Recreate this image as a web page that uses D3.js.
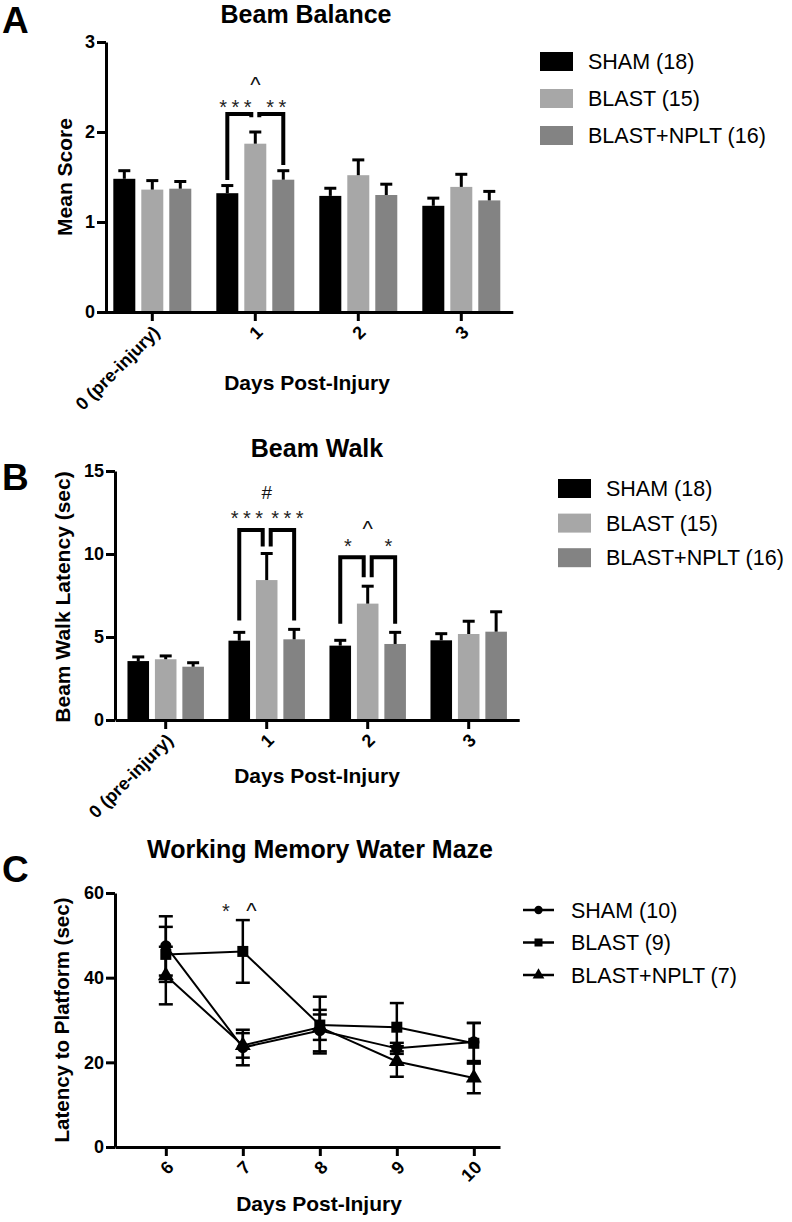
<!DOCTYPE html>
<html><head><meta charset="utf-8">
<script src="https://cdn.jsdelivr.net/npm/d3@7"></script>
<style>body{margin:0;background:#fff}</style>
</head><body><svg id="c" width="792" height="1222"></svg>
<script>
// ---------- DATA ----------
const barSeries = ["SHAM (18)", "BLAST (15)", "BLAST+NPLT (16)"];
const barColors = ["#000000", "#a7a7a7", "#838383"];
const barDays = ["0 (pre-injury)", "1", "2", "3"];

const balanceMean = [[1.48, 1.32, 1.29, 1.18], [1.36, 1.87, 1.52, 1.39], [1.37, 1.47, 1.30, 1.24]];
const balanceSEM  = [[0.09, 0.085, 0.085, 0.085], [0.10, 0.13, 0.17, 0.14], [0.08, 0.10, 0.12, 0.10]];
const balanceTicks = [0, 1, 2, 3];
const balanceBrackets = [
  {day: "1", a: 0, b: 1, top: 2.2, aEnd: 1.467, bEnd: 2.165, label: "***"},
  {day: "1", a: 1, b: 2, top: 2.2, aEnd: 2.165, bEnd: 1.633, label: "**"}
];
const balanceMarks = [{day: "1", series: 1, y: 2.57, label: "^"}];

const walkMean = [[3.55, 4.78, 4.48, 4.80], [3.66, 8.43, 7.01, 5.18], [3.21, 4.86, 4.58, 5.32]];
const walkSEM  = [[0.25, 0.50, 0.32, 0.40], [0.20, 1.60, 1.05, 0.77], [0.24, 0.60, 0.70, 1.20]];
const walkTicks = [0, 5, 10, 15];
const walkBrackets = [
  {day: "1", a: 0, b: 1, top: 11.45, aEnd: 6.0, bEnd: 10.45, label: "***"},
  {day: "1", a: 1, b: 2, top: 11.45, aEnd: 10.45, bEnd: 6.0, label: "***"},
  {day: "2", a: 0, b: 1, top: 9.8, aEnd: 5.8, bEnd: 8.6, label: "*"},
  {day: "2", a: 1, b: 2, top: 9.8, aEnd: 8.6, bEnd: 5.8, label: "*"}
];
const walkMarks = [{day: "1", series: 1, y: 13.75, label: "#"}, {day: "2", series: 1, y: 11.8, label: "^"}];

const mazeSeries = ["SHAM (10)", "BLAST (9)", "BLAST+NPLT (7)"];
const mazeDays = [6, 7, 8, 9, 10];
const mazeMean = [[47.5, 23.5, 27.5, 23.3, 24.8], [45.5, 46.2, 28.8, 28.3, 24.5], [40.5, 24.0, 28.3, 20.2, 16.3]];
const mazeSEM  = [[7.0, 4.2, 4.9, 1.3, 4.5], [6.5, 7.4, 6.7, 5.7, 4.8], [6.8, 2.9, 3.0, 3.6, 3.6]];
const mazeTicks = [0, 20, 40, 60];
const mazeMarks = [{day: 6.78, y: 56.9, label: "*"}, {day: 7.11, y: 56.9, label: "^"}];

// ---------- DRAW ----------
const FONT = '"Liberation Sans", Arial, Helvetica, sans-serif';
const svg = d3.select("#c").style("font-family", FONT);

function text(g, x, y, s, size, bold, anchor, extra) {
  const t = g.append("text").attr("x", x).attr("y", y).text(s)
    .attr("font-size", size).attr("font-weight", bold ? "bold" : "normal")
    .attr("text-anchor", anchor || "start").attr("fill", "#000");
  if (extra) extra(t);
  return t;
}
// visual-centre offsets (in em) for annotation glyphs
const glyph = {"*": {size: 20, off: 0.57, ls: 4.5, fill: "#222"}, "^": {size: 22, off: 0.52, ls: 0, fill: "#111"}, "#": {size: 19, off: 0.36, ls: 0, fill: "#111"}};
function mark(g, x, yc, label) {
  const k = glyph[label[0]];
  text(g, x + k.ls / 2, yc + k.off * k.size, label, k.size, false, "middle", t => t.attr("letter-spacing", k.ls).attr("fill", k.fill));
}
function styleAxis(ax, size) {
  ax.selectAll("path.domain").attr("stroke", "#000").attr("stroke-width", 3);
  ax.selectAll(".tick line").attr("stroke", "#000").attr("stroke-width", 3);
  ax.selectAll(".tick text").attr("font-size", size).attr("font-weight", "bold").attr("fill", "#000").style("font-family", FONT);
}
function rotateX(ax) {
  ax.selectAll(".tick text").attr("x", 0).attr("y", 0).attr("dy", "0.35em")
    .attr("text-anchor", "end").attr("transform", "translate(4,17) rotate(-45)");
}

function barPanel(c) {
  const g = svg.append("g");
  const x = d3.scaleBand().domain(barDays).range([c.x0, c.x1]).paddingInner(0.243).paddingOuter(0.1215);
  const xs = d3.scaleBand().domain([0, 1, 2]).range([0, x.bandwidth()]).paddingInner(0.214);
  const y = d3.scaleLinear().domain([0, c.ymax]).range([c.yb, c.yt]);
  const cx = (day, s) => x(day) + xs(s) + xs.bandwidth() / 2;

  // bars
  barSeries.forEach((name, s) => {
    const rows = barDays.map((d, i) => ({d, m: c.mean[s][i], e: c.sem[s][i]}));
    g.selectAll(null).data(rows).join("rect")
      .attr("x", r => x(r.d) + xs(s)).attr("width", xs.bandwidth())
      .attr("y", r => y(r.m)).attr("height", r => y(0) - y(r.m)).attr("fill", barColors[s]);
    g.selectAll(null).data(rows).join("line")
      .attr("x1", r => cx(r.d, s)).attr("x2", r => cx(r.d, s))
      .attr("y1", r => y(r.m)).attr("y2", r => y(r.m + r.e)).attr("stroke", "#000").attr("stroke-width", 3);
    g.selectAll(null).data(rows).join("line")
      .attr("x1", r => cx(r.d, s) - 6).attr("x2", r => cx(r.d, s) + 6)
      .attr("y1", r => y(r.m + r.e)).attr("y2", r => y(r.m + r.e)).attr("stroke", "#000").attr("stroke-width", 3);
  });

  // brackets
  const bx = (day, s, other) => cx(day, s) + (s === 1 ? (other < 1 ? -4 : 4) : 0);
  g.selectAll(null).data(c.brackets).join("path")
    .attr("d", b => {
      const xa = bx(b.day, b.a, b.b), xb = bx(b.day, b.b, b.a);
      return `M${xa},${y(b.aEnd)}V${y(b.top)}H${xb}V${y(b.bEnd)}`;
    })
    .attr("fill", "none").attr("stroke", "#000").attr("stroke-width", 4).attr("stroke-linejoin", "miter");
  c.brackets.forEach(b => {
    const xa = bx(b.day, b.a, b.b), xb = bx(b.day, b.b, b.a);
    const shift = b.a === 0 ? -4 : 5;
    mark(g, (xa + xb) / 2 + shift, y(b.top) - c.starGap, b.label);
  });
  c.marks.forEach(m => mark(g, cx(m.day, m.series), y(m.y), m.label));

  // axes
  const ay = g.append("g").attr("transform", `translate(${c.yAxisX},0)`)
    .call(d3.axisLeft(y).tickValues(c.ticks).tickFormat(d3.format("d")).tickSize(9).tickSizeOuter(0).tickPadding(2));
  styleAxis(ay, 18);
  const axx = g.append("g").attr("transform", `translate(0,${c.yb})`)
    .call(d3.axisBottom(x).tickSize(9).tickSizeOuter(0));
  styleAxis(axx, 18);
  rotateX(axx);

  // texts
  text(g, c.titleX, c.titleY, c.title, 25, true, "middle");
  text(g, 2, c.letterY, c.letter, 37, true, "start");
  text(g, 0, 0, c.ylabel, 21, true, "middle", t => t.attr("transform", `translate(${c.ylabelX},${c.ylabelY}) rotate(-90)`));
  text(g, c.xlabelX, c.xlabelY, "Days Post-Injury", 21, true, "middle");

  // legend
  const lg = g.append("g");
  barSeries.forEach((name, s) => {
    const yy = c.legY + s * c.legStep;
    lg.append("rect").attr("x", c.legX).attr("y", yy).attr("width", 33).attr("height", 19).attr("fill", barColors[s]);
    text(lg, c.legX + 48, yy + 9.5, name, 21.5, false, "start", t => t.attr("dy", "0.36em"));
  });
}

barPanel({
  mean: balanceMean, sem: balanceSEM, ticks: balanceTicks, ymax: 3, brackets: balanceBrackets, marks: balanceMarks, starGap: 11,
  yAxisX: 106, x0: 100.8, x1: 512.8, yb: 312, yt: 42,
  title: "Beam Balance", titleX: 306, titleY: 23, letter: "A", letterY: 33,
  ylabel: "Mean Score", ylabelX: 72, ylabelY: 177, xlabelX: 307, xlabelY: 390,
  legX: 540, legY: 52, legStep: 37
});
barPanel({
  mean: walkMean, sem: walkSEM, ticks: walkTicks, ymax: 15, brackets: walkBrackets, marks: walkMarks, starGap: 16,
  yAxisX: 115, x0: 115.2, x1: 519.2, yb: 720, yt: 471,
  title: "Beam Walk", titleX: 317, titleY: 457, letter: "B", letterY: 490,
  ylabel: "Beam Walk Latency (sec)", ylabelX: 70, ylabelY: 597, xlabelX: 317, xlabelY: 783,
  legX: 558, legY: 479, legStep: 34.6
});

// ---------- Panel C ----------
(function () {
  const g = svg.append("g");
  const x = d3.scaleLinear().domain([5.34, 10.34]).range([115, 500]);
  const y = d3.scaleLinear().domain([0, 60]).range([1147, 893]);
  const symbols = [d3.symbolCircle, d3.symbolSquare, d3.symbolTriangle];
  const symSize = [100, 121, 110];
  const legSize = [55, 64, 60];

  mazeSeries.forEach((name, s) => {
    const rows = mazeDays.map((d, i) => ({d, m: mazeMean[s][i], e: mazeSEM[s][i]}));
    g.selectAll(null).data(rows).join("line")
      .attr("x1", r => x(r.d)).attr("x2", r => x(r.d))
      .attr("y1", r => y(r.m - r.e)).attr("y2", r => y(r.m + r.e)).attr("stroke", "#000").attr("stroke-width", 2.5);
    [1, -1].forEach(sg => {
      g.selectAll(null).data(rows).join("line")
        .attr("x1", r => x(r.d) - 7).attr("x2", r => x(r.d) + 7)
        .attr("y1", r => y(r.m + sg * r.e)).attr("y2", r => y(r.m + sg * r.e)).attr("stroke", "#000").attr("stroke-width", 2.5);
    });
    g.append("path").datum(rows)
      .attr("d", d3.line().x(r => x(r.d)).y(r => y(r.m)))
      .attr("fill", "none").attr("stroke", "#000").attr("stroke-width", 2);
  });
  mazeSeries.forEach((name, s) => {
    const rows = mazeDays.map((d, i) => ({d, m: mazeMean[s][i]}));
    g.selectAll(null).data(rows).join("path")
      .attr("d", d3.symbol(symbols[s], symSize[s]))
      .attr("transform", r => `translate(${x(r.d)},${y(r.m)})`).attr("fill", "#000");
  });
  mazeMarks.forEach(m => mark(g, x(m.day), y(m.y), m.label));

  const ay = g.append("g").attr("transform", "translate(115,0)")
    .call(d3.axisLeft(y).tickValues(mazeTicks).tickFormat(d3.format("d")).tickSize(9).tickSizeOuter(0).tickPadding(2));
  styleAxis(ay, 18);
  const axx = g.append("g").attr("transform", "translate(0,1147)")
    .call(d3.axisBottom(x).tickValues(mazeDays).tickFormat(d3.format("d")).tickSize(9).tickSizeOuter(0));
  styleAxis(axx, 18);
  rotateX(axx);

  text(g, 320, 858, "Working Memory Water Maze", 25, true, "middle");
  text(g, 2, 882, "C", 37, true, "start");
  text(g, 0, 0, "Latency to Platform (sec)", 20.5, true, "middle", t => t.attr("transform", "translate(69,1020) rotate(-90)"));
  text(g, 319, 1211, "Days Post-Injury", 21, true, "middle");

  const lg = g.append("g");
  mazeSeries.forEach((name, s) => {
    const yy = 910 + s * 32.5;
    lg.append("line").attr("x1", 523).attr("x2", 554).attr("y1", yy).attr("y2", yy).attr("stroke", "#000").attr("stroke-width", 2.5);
    lg.append("path").attr("d", d3.symbol(symbols[s], legSize[s])).attr("transform", `translate(538.5,${yy})`).attr("fill", "#000");
    text(lg, 571, yy, name, 21.5, false, "start", t => t.attr("dy", "0.36em"));
  });
})();
</script>
</body></html>
